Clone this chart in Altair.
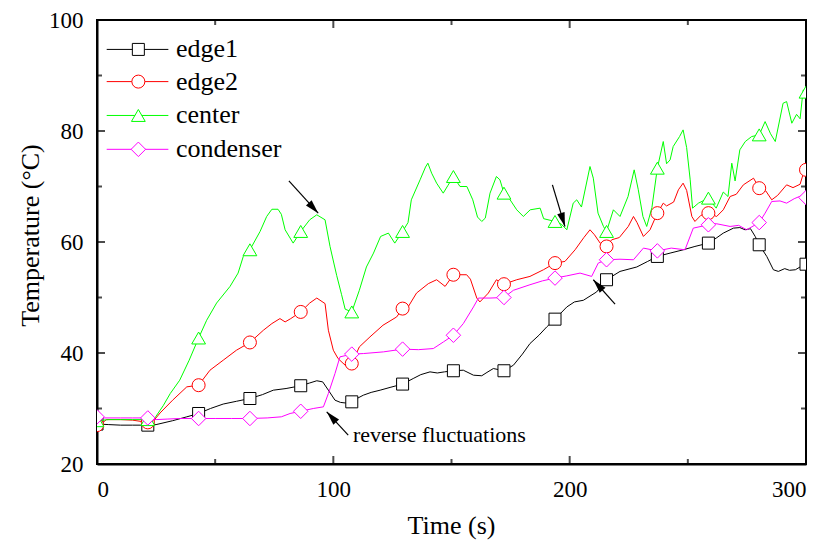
import math
import altair as alt
import pandas as pd

# ---------------- data ----------------
MARK_T = [0, 21.5, 43, 64.7, 86.2, 107.8, 129.3, 150.8, 172.2, 193.8, 215.6, 237.1, 258.7, 280.2, 300]

EDGE1_T = [0, 5, 10, 15, 21.5, 25, 32, 38, 43, 48, 53.4, 59, 64.7, 70, 74.6, 80, 86.2, 90, 93, 95.5,
           97.9, 100.7, 103, 105, 107.8, 110, 112.7, 116, 119.8, 124, 129.3, 133.8, 137, 140.9, 144, 147,
           150.8, 155, 159.3, 162.8, 165, 167.7, 172.2, 176.2, 180, 183.2, 187, 190.3, 193.8, 198.8, 202,
           205.8, 211.4, 215.6, 221.3, 228.4, 233, 237.1, 242.5, 248.1, 253, 258.7, 262, 265, 269.3, 272,
           274.2, 276.5, 278.5, 280.2, 283.4, 286.2, 288.3, 291, 293, 295.5, 297.5, 300]
EDGE1_V = [27.2, 27.1, 27.0, 27.0, 27.0, 27.1, 27.8, 28.5, 29.1, 30.0, 30.8, 31.3, 31.8, 32.5, 33.3, 33.6,
           34.1, 34.6, 35.0, 34.8, 33.3, 31.5, 31.1, 31.0, 31.2, 31.8, 32.4, 32.9, 33.3, 33.8, 34.4, 35.4,
           36.1, 36.6, 36.4, 36.6, 36.8, 36.9, 36.0, 35.9, 36.5, 37.2, 36.8, 37.8, 39.8, 41.7, 43.2, 44.7,
           46.1, 48.3, 49.2, 49.5, 51.0, 53.2, 54.7, 55.5, 56.5, 57.4, 58.0, 58.6, 59.2, 59.8, 60.7, 61.6,
           62.5, 62.6, 62.2, 62.4, 61.0, 59.5, 57.4, 55.0, 54.7, 55.2, 54.9, 55.0, 55.5, 56.0]

EDGE2_T = [0, 2, 4, 10, 15, 21.5, 24, 26.7, 32, 38, 43, 47.8, 53.4, 59, 64.7, 70.4, 74, 77.4, 79.6, 82,
           86.2, 90, 93, 96.5, 97.9, 100, 102, 105, 107.8, 111, 115.5, 121, 126.8, 129.3, 131.5, 135.2,
           140.2, 143.7, 147.3, 150.8, 156.4, 158, 160.7, 162, 165.6, 169, 172.2, 177.6, 183.2, 188.9,
           193.8, 198, 202.3, 206, 208.6, 210.5, 212.9, 215.6, 217.8, 221, 224.8, 227, 228.5, 231.2, 234,
           237.1, 239.6, 241, 244, 246, 248, 249.5, 251.7, 253, 255.5, 258.7, 262.2, 265, 267.9, 270.5,
           273.5, 277.8, 280.2, 283, 285.5, 288, 291.8, 294.5, 297.5, 299, 300]
EDGE2_V = [27.0, 27.3, 28.0, 28.0, 27.9, 27.5, 27.8, 29.2, 31.5, 33.9, 34.2, 36.9, 38.7, 40.5, 41.9, 44.1,
           45.3, 46.2, 45.6, 46.2, 47.4, 49.0, 49.9, 48.9, 44.1, 40.5, 39.0, 37.8, 38.1, 41.1, 42.9, 45.0,
           46.5, 48.0, 48.2, 50.8, 52.5, 53.2, 52.0, 54.1, 54.1, 53.3, 49.9, 49.2, 50.8, 53.2, 52.4, 53.2,
           53.8, 55.0, 56.2, 56.5, 58.6, 60.8, 62.2, 61.3, 59.8, 59.2, 60.4, 60.8, 62.8, 64.6, 63.5, 61.0,
           62.2, 65.2, 67.0, 66.5, 67.2, 69.4, 70.6, 69.3, 64.6, 63.7, 64.8, 65.2, 64.6, 65.8, 68.2, 68.6,
           70.3, 71.5, 69.7, 69.2, 67.6, 68.4, 70.3, 69.8, 70.4, 72.5, 73.0]

CENTER_T = [0, 5, 10, 15, 21.5, 24.5, 28, 31, 35, 39, 43, 46.4, 50.6, 56.3, 59.7, 61.9, 64.7, 69, 71.8, 74,
            76.6, 78, 79.6, 83, 86.2, 90, 93, 96.5, 98.6, 101.4, 103.5, 105, 107.8, 111, 114, 117, 120,
            123.3, 126, 129.3, 131.6, 133, 136.7, 139, 140, 141.6, 143.7, 146.5, 148.5, 150.8, 153.6,
            156.5, 159, 161, 162.8, 164.3, 166.3, 169, 170.5, 172.2, 174.8, 177.6, 180.4, 183.3, 187.5,
            189, 193.8, 196.5, 198.8, 201.5, 203, 205, 208.6, 210, 212, 214.3, 215.6, 218.5, 221.3, 224.7,
            227.3, 229, 231, 232.6, 234.8, 237.1, 239.6, 241, 242.5, 243.8, 246.5, 248, 249.5, 251, 252,
            254.5, 258.7, 262, 265, 267, 268.6, 270, 272, 274.3, 277, 280.2, 282.7, 285, 287, 290.3, 291.8,
            294, 296, 297.5, 298.8, 300]
CENTER_V = [27.8, 28.0, 28.0, 28.0, 28.0, 28.3, 30.5, 32.7, 35.1, 38.7, 42.7, 45.9, 49.0, 52.0, 54.4, 57.4,
            58.6, 61.9, 64.6, 65.9, 65.9, 65.0, 62.2, 59.8, 61.9, 64.0, 64.9, 64.0, 59.2, 54.0, 50.5, 47.9,
            47.4, 51.3, 55.5, 58.0, 61.0, 61.6, 59.8, 61.9, 63.5, 67.6, 71.2, 73.5, 74.2, 72.4, 70.6, 68.8,
            70.2, 71.8, 70.0, 70.0, 67.6, 64.5, 63.7, 64.3, 68.8, 71.8, 71.2, 68.8, 67.6, 65.8, 64.6, 65.8,
            66.1, 64.2, 63.7, 63.2, 62.2, 67.0, 67.6, 66.3, 73.6, 71.5, 65.2, 62.8, 61.9, 65.8, 64.6, 68.2,
            73.0, 69.5, 64.6, 62.8, 66.2, 73.3, 78.1, 74.1, 74.8, 77.2, 79.0, 80.2, 77.0, 71.2, 66.1, 67.0,
            67.9, 66.1, 69.0, 68.2, 74.2, 71.0, 76.6, 78.1, 79.0, 79.3, 81.7, 79.5, 78.1, 85.0, 85.3, 81.4,
            83.0, 82.2, 87.4, 87.0]

COND_T = [0, 3, 10, 15, 21.5, 25, 30, 35, 43, 50, 57, 64.7, 72, 78, 81.7, 86.2, 91.5, 95.8, 97.9, 100.7,
          102.8, 107.8, 112.7, 121.2, 129.3, 136, 142.3, 146.6, 150.8, 155, 159.3, 161.4, 166.3, 172.2,
          176.2, 183.2, 188.5, 193.8, 198.8, 204.4, 209.3, 212.1, 215.6, 221.3, 227, 231.2, 237.1, 243,
          248.8, 252.3, 258.7, 262, 267.9, 271.5, 274.9, 280.2, 282.7, 285.5, 289, 291.8, 295, 298.9, 300]
COND_V = [28.5, 28.3, 28.3, 28.3, 28.3, 28.0, 28.1, 28.2, 28.2, 28.2, 28.2, 28.2, 28.3, 28.5, 29.1, 29.5,
          30.0, 30.3, 32.7, 36.3, 39.3, 39.8, 39.9, 40.2, 40.7, 40.6, 40.8, 42.0, 43.2, 45.3, 48.3, 49.9,
          49.9, 50.0, 51.3, 52.3, 53.0, 53.5, 53.9, 54.4, 53.8, 56.2, 56.8, 56.9, 56.8, 58.9, 58.4, 58.9,
          58.6, 62.5, 63.1, 63.3, 62.8, 63.0, 62.2, 63.5, 65.2, 67.3, 67.4, 67.0, 67.8, 68.5, 68.0]

SERIES = ["edge1", "edge2", "center", "condenser"]
COLORS = ["#000000", "#FF0000", "#00FF00", "#FF00FF"]
SHAPES = ["square", "circle", "triangle-up", "diamond"]
SIZES = [144, 169, 190, 210]
DATA = [(EDGE1_T, EDGE1_V), (EDGE2_T, EDGE2_V), (CENTER_T, CENTER_V), (COND_T, COND_V)]

X_TICKS = [0, 100, 200, 300]
X_MINOR = [50, 150, 250]
Y_TICKS = [20, 40, 60, 80, 100]
Y_MINOR = [30, 50, 70, 90]

# annotations (data coordinates): tail -> head
ARROW_T = [81.2, 192.7, 219.2, 106.3]
ARROW_V = [71.0, 70.3, 48.8, 25.2]
ARROW_T2 = [93.6, 198.0, 210.0, 97.2]
ARROW_V2 = [65.2, 62.8, 53.2, 29.4]
NOTE_TEXT = ["reverse fluctuations"]
NOTE_T = [108.3]
NOTE_V = [25.2]

# legend layout (data coordinates)
LEG_V = [94.7, 88.9, 82.8, 76.7]
LEG_T_LINE = [4.1, 30.2]
LEG_T_MARK = 17.5
LEG_T_TEXT = 33.4

# ---------------- chart ----------------
W, H = 709, 444
XDOM, YDOM = [0, 300], [20, 100]
FONT = "'Liberation Serif', 'Times New Roman', Times, serif"

xs = alt.Scale(domain=XDOM, nice=False, zero=False)
ys = alt.Scale(domain=YDOM, nice=False, zero=False)
xaxis = alt.Axis(values=X_TICKS, title="Time (s)", ticks=False, tickSize=0, grid=False,
                 labelPadding=25, labelBaseline="middle", titleX=354, titleY=61,
                 titleBaseline="middle", titleAlign="center")
yaxis = alt.Axis(values=Y_TICKS, title="Temperature (°C)", ticks=False, tickSize=0, grid=False,
                 labelPadding=14, titleX=-67, titleY=215, titleAngle=270,
                 titleBaseline="middle", titleAlign="center")
X = alt.X("t:Q", scale=xs, axis=xaxis)
Y = alt.Y("v:Q", scale=ys, axis=yaxis)

rows = []
for name, (ts, vs) in zip(SERIES, DATA):
    for i, (t, v) in enumerate(zip(ts, vs)):
        rows.append({"series": name, "t": t, "v": v, "i": i, "mark": t in MARK_T})
df = pd.DataFrame(rows)

layers = []
for name, col, shp, sz in zip(SERIES, COLORS, SHAPES, SIZES):
    base = alt.Chart(df).transform_filter(alt.datum.series == name)
    layers.append(base.mark_line(color=col, strokeWidth=1, clip=True).encode(
        x=X, y=Y, order="i:Q"))
    layers.append(base.transform_filter(alt.datum.mark).mark_point(
        shape=shp, size=sz, filled=True, fill="white", stroke=col, strokeWidth=1,
        opacity=1, clip=True).encode(x=X, y=Y))

# inward ticks on all four sides
def xtick_layer(vals, length, top):
    d = pd.DataFrame({"t": vals})
    return alt.Chart(d).mark_tick(orient="vertical", size=length, thickness=2, color="black",
                                  yOffset=(length / 2 if top else -length / 2)).encode(
        x=X, y=alt.value(0 if top else H))

def ytick_layer(vals, length, right):
    d = pd.DataFrame({"v": vals})
    return alt.Chart(d).mark_tick(orient="horizontal", size=length, thickness=2, color="black",
                                  xOffset=(-length / 2 if right else length / 2)).encode(
        y=Y, x=alt.value(W if right else 0))

for top in (False, True):
    layers.append(xtick_layer(X_TICKS, 8, top))
    layers.append(xtick_layer(X_MINOR, 5, top))
for right in (False, True):
    layers.append(ytick_layer(Y_TICKS, 8, right))
    layers.append(ytick_layer(Y_MINOR, 5, right))

# arrows
px_t = W / (XDOM[1] - XDOM[0])
px_v = H / (YDOM[1] - YDOM[0])
angles = []
for t1, v1, t2, v2 in zip(ARROW_T, ARROW_V, ARROW_T2, ARROW_V2):
    dx = (t2 - t1) * px_t
    dy = -(v2 - v1) * px_v
    angles.append(math.degrees(math.atan2(dx, -dy)) % 360)
arrows = pd.DataFrame({"t": ARROW_T, "v": ARROW_V, "t2": ARROW_T2, "v2": ARROW_V2, "ang": angles})
layers.append(alt.Chart(arrows).mark_rule(color="black", strokeWidth=1.2).encode(
    x=X, y=Y, x2="t2:Q", y2="v2:Q"))
layers.append(alt.Chart(arrows).mark_point(
    shape="M0,0 L-0.55,2 L0.55,2 Z", size=196, filled=True, color="black", opacity=1).encode(
    x=alt.X("t2:Q", scale=xs, axis=xaxis), y=alt.Y("v2:Q", scale=ys, axis=yaxis),
    angle=alt.Angle("ang:Q", scale=None)))

notes = pd.DataFrame({"t": NOTE_T, "v": NOTE_V, "txt": NOTE_TEXT})
layers.append(alt.Chart(notes).mark_text(align="left", baseline="middle", font=FONT,
                                         fontSize=22, color="black").encode(
    x=X, y=Y, text="txt:N"))

# legend
leg_lines = pd.DataFrame({"series": SERIES, "v": LEG_V,
                          "t": [LEG_T_LINE[0]] * 4, "t2": [LEG_T_LINE[1]] * 4})
for k, (name, col, shp, sz) in enumerate(zip(SERIES, COLORS, SHAPES, SIZES)):
    row = leg_lines.iloc[[k]]
    layers.append(alt.Chart(row).mark_rule(color=col, strokeWidth=1).encode(
        x=X, x2="t2:Q", y=Y))
    layers.append(alt.Chart(row).transform_calculate(tm=str(LEG_T_MARK)).mark_point(
        shape=shp, size=sz, filled=True, fill="white", stroke=col, strokeWidth=1,
        opacity=1).encode(x=alt.X("tm:Q", scale=xs, axis=xaxis), y=Y))
leg_text = pd.DataFrame({"series": SERIES, "v": LEG_V, "t": [LEG_T_TEXT] * 4})
layers.append(alt.Chart(leg_text).mark_text(align="left", baseline="middle", font=FONT,
                                            fontSize=26, color="black").encode(
    x=X, y=Y, text="series:N"))

chart = alt.layer(*layers).properties(
    width=W, height=H,
    autosize=alt.AutoSizeParams(type="none"),
    padding={"left": 97, "top": 20, "right": 21, "bottom": 83},
    background="white",
).configure_view(
    stroke="black", strokeWidth=2
).configure_axis(
    domainColor="black", domainWidth=2, labelFont=FONT, labelFontSize=23,
    labelColor="black", titleFont=FONT, titleFontSize=26, titleFontWeight="normal",
    titleColor="black"
).configure_text(font=FONT)

chart.save("out.html", embed_options={"renderer": "svg", "actions": False})
